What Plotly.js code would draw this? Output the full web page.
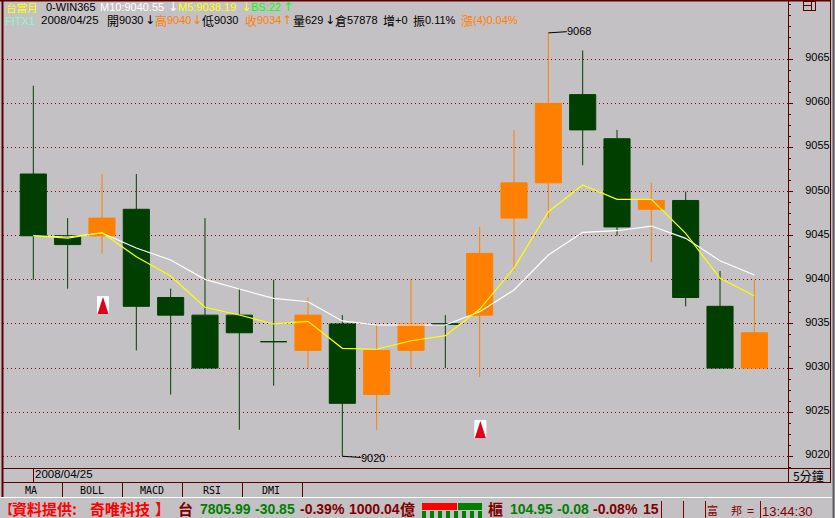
<!DOCTYPE html>
<html><head><meta charset="utf-8">
<script src="https://cdn.plot.ly/plotly-3.0.1.min.js"></script>
<style>html,body{margin:0;padding:0;background:#c4c1c4;overflow:hidden}</style>
</head><body><div id="chart" style="width:835px;height:518px"></div>
<script>
// ---- data ----
const barIndex = [0,1,2,3,4,5,6,7,8,9,10,11,12,13,14,15,16,17,18,19,20,21];
const openPrice  = [9052,9045,9045,9048,9038,9036,9036,9033,9032,9035,9027,9032,9035,9036,9047,9051,9061,9056,9048,9049,9037,9030];
const highPrice  = [9062,9047,9052,9052,9039,9047,9039,9040,9038,9036,9035,9040,9036,9046,9057,9068,9066,9057,9051,9050,9041,9040];
const lowPrice   = [9040,9039,9043,9032,9027,9030,9023,9028,9030,9020,9023,9030,9030,9029,9041,9047,9053,9045,9042,9037,9030,9030];
const closePrice = [9045,9044,9047,9037,9036,9030,9034,9032.99,9036,9026,9032,9035,9034.99,9043,9051,9060,9057,9046,9049,9038,9030,9034];
const ma10 = [9045.0,9044.86,9045.31,9043.61,9042.25,9040.06,9038.96,9037.9,9037.52,9035.34,9034.88,9034.88,9034.88,9036.39,9038.85,9042.82,9045.39,9045.57,9046.1,9044.71,9042.17,9040.55];
const ma5  = [9045.0,9044.74,9045.34,9042.62,9040.44,9036.89,9036.02,9035.0,9035.3,9032.24,9032.13,9033.1,9033.67,9036.66,9041.34,9047.73,9050.75,9049.13,9049.13,9045.28,9040.18,9038.19];
const signalX = [2.03,13.02];
const signalY = [9037.14,9023.1];
const priceTicks = [9020,9025,9030,9035,9040,9045,9050,9055,9060,9065];
const tabLabels = ['MA','BOLL','MACD','RSI','DMI'];

// ---- colours ----
const BG='#c4c1c4', FRAME='#5a0000', GREEN='#003f00', ORANGE='#ff8000', GRID='#800000';
const W=835,H=518,mL=3,mR=47,mT=2,mB=50;
const px=x=>(x-mL)/(W-mL-mR), py=y=>1-(y-mT)/(H-mT-mB);
const CJK='"Noto Sans CJK TC"', MONO='"DejaVu Sans Mono"', SANS='"Liberation Sans"';

const annotations=[], shapes=[];
function T(x,y,text,color,size,family,anchor,bold){
  annotations.push({xref:'paper',yref:'paper',x:px(x),y:py(y),text:bold?'<b>'+text+'</b>':text,showarrow:false,
    xanchor:anchor||'left',yanchor:'middle',borderpad:0,borderwidth:0,
    font:{color:color,size:size,family:family||SANS}});
}
function L(x0,y0,x1,y1,color,w){
  shapes.push({type:'line',xref:'paper',yref:'paper',x0:px(x0),y0:py(y0),x1:px(x1),y1:py(y1),line:{color:color||FRAME,width:w||1}});
}
function R(x0,y0,x1,y1,color){
  shapes.push({type:'rect',xref:'paper',yref:'paper',x0:px(x0),y0:py(y0),x1:px(x1),y1:py(y1),line:{width:0},fillcolor:color});
}
// frame
L(0,0.5,831,0.5,FRAME,2);
L(2.5,0,2.5,497,FRAME,2);
L(788.5,0,788.5,482.5);
L(830.5,0,830.5,482.5);
L(3,468.5,831,468.5);
L(3,482.5,831,482.5);
L(33.5,468,33.5,482);
[62.5,122.5,182.5,242.5,302.5].forEach(x=>L(x,482,x,497));
L(0,497.5,832,497.5,'#ffffff',1);
L(833.5,0,833.5,518,'#5c5c60',2);
// corner icon
L(803.5,1,803.5,11);L(815.5,1,815.5,11);L(803,1.5,816,1.5);L(803,10.5,816,10.5);L(803,5.5,812,5.5);L(811.5,1,811.5,11);

// header rows
T(6,7.5,'台當月','#ffff00',10.5,CJK);
T(46,7,'0-WIN365','#000',11);
T(100,7,'M10:9040.55','#fff',11);
T(168,7,'↓','#fff',12,'DejaVu Sans');
T(178,7,'M5:9038.19','#ffff00',11);
T(241,7,'↓','#ffff00',12,'DejaVu Sans');
T(251,7,'BS:22','#00ff00',11);
T(283,7,'↑','#00ff00',12,'DejaVu Sans');
T(5,21,'FITX1','#80ffc0',11);
T(41,20.5,'2008/04/25','#000',11.5);
T(107,20.5,'開','#000',12,CJK);T(119,20.5,'9030','#000',11);T(145,20.5,'↓','#000',12,'DejaVu Sans');
T(155,20.5,'高',ORANGE,12,CJK);T(167,20.5,'9040',ORANGE,11);T(192,20.5,'↓',ORANGE,12,'DejaVu Sans');
T(202,20.5,'低','#000',12,CJK);T(214,20.5,'9030','#000',11);
T(245,20.5,'收',ORANGE,12,CJK);T(257,20.5,'9034',ORANGE,11);T(282,20.5,'↑',ORANGE,12,'DejaVu Sans');
T(293,20.5,'量','#000',12,CJK);T(305,20.5,'629','#000',11);T(325,20.5,'↓','#000',12,'DejaVu Sans');
T(335,20.5,'倉','#000',12,CJK);T(347,20.5,'57878','#000',11);
T(383,20.5,'增','#000',12,CJK);T(395,20.5,'+0','#000',11);
T(413,20.5,'振','#000',12,CJK);T(425,20.5,'0.11%','#000',11);
T(461,20.5,'漲',ORANGE,12,CJK);T(473,20.5,'(4)0.04%',ORANGE,11);

// footer strips
T(35,474.5,'2008/04/25','#000',11.5);
T(793,475.5,'5分鐘','#000',12,CJK);
[31,92,152,212,271].forEach((x,i)=>T(x,490,tabLabels[i],'#000',10,MONO,'center'));

// status bar
T(0,509,'【','#ff0000',13,CJK,'left',true);
T(12,509,'資料提供:','#ff0000',15,CJK,'left',true);
T(90,509,'奇唯科技','#ff0000',15,CJK,'left',true);
T(155,509,'】','#ff0000',15,CJK,'left',true);
T(178,509,'台','#800000',15,CJK,'left',true);
T(200,509,'7805.99','#008000',14,SANS,'left',true);
T(255,509,'-30.85','#008000',14,SANS,'left',true);
T(300,509,'-0.39%','#800000',14,SANS,'left',true);
T(349,509,'1000.04','#800000',14,SANS,'left',true);
T(400,509,'億','#800000',15,CJK,'left',true);
R(422,503,457,510,'#ff0000');
R(458,503,482,510,'#008000');
for(let i=0;i<8;i++){R(422+i*8,511,426+i*8,518,'#008000');}
T(488,509,'櫃','#800000',15,CJK,'left',true);
T(510,509,'104.95','#008000',14,SANS,'left',true);
T(557,509,'-0.08','#008000',14,SANS,'left',true);
T(593,509,'-0.08%','#800000',14,SANS,'left',true);
T(643,509,'15','#800000',14,SANS,'left',true);
[661.5,683.5,705.5,760.5].forEach(x=>L(x,501,x,518,'#800000'));
T(707,510,'富','#800000',11,CJK);
T(731,510,'邦','#800000',11,CJK);
T(747,511,'=','#800000',12,SANS);
T(762,511,'13:44:30','#800000',13,SANS);

// signal markers, anchored on the data scale
signalX.forEach((sx,i)=>{
  const base={xref:'x',yref:'y',xsizemode:'pixel',ysizemode:'pixel',xanchor:sx,yanchor:signalY[i],layer:'above'};
  shapes.push(Object.assign({},base,{type:'path',path:'M -6 -9 L 6 -9 L 6 9 L -6 9 Z',fillcolor:'#ffffff',line:{width:0}}));
  shapes.push(Object.assign({},base,{type:'path',path:'M -5.5 -9 L 5.5 -9 L 0 8 Z',fillcolor:'#e0001a',line:{width:0}}));
});

// extreme labels
const iHi=highPrice.indexOf(Math.max(...highPrice)), iLo=lowPrice.indexOf(Math.min(...lowPrice));
annotations.push({x:barIndex[iHi],y:highPrice[iHi],xref:'x',yref:'y',text:String(highPrice[iHi]),showarrow:true,arrowhead:0,arrowwidth:1,arrowcolor:'#000',
  axref:'pixel',ayref:'pixel',ax:31,ay:-2,standoff:0,font:{family:SANS,size:11,color:'#000'},borderpad:0,bgcolor:'rgba(0,0,0,0)'});
annotations.push({x:barIndex[iLo],y:lowPrice[iLo],xref:'x',yref:'y',text:String(lowPrice[iLo]),showarrow:true,arrowhead:0,arrowwidth:1,arrowcolor:'#000',
  axref:'pixel',ayref:'pixel',ax:31,ay:2,standoff:0,font:{family:SANS,size:11,color:'#000'},borderpad:0,bgcolor:'rgba(0,0,0,0)'});

const data=[
 {type:'candlestick',x:barIndex,open:openPrice,high:highPrice,low:lowPrice,close:closePrice,whiskerwidth:0,
  increasing:{line:{color:ORANGE,width:1},fillcolor:ORANGE},decreasing:{line:{color:GREEN,width:1},fillcolor:GREEN},showlegend:false,hoverinfo:'skip'},
 {type:'scatter',mode:'lines',x:barIndex,y:ma10,line:{color:'#ffffff',width:1.2},showlegend:false,hoverinfo:'skip'},
 {type:'scatter',mode:'lines',x:barIndex,y:ma5,line:{color:'#ffff00',width:1.2},showlegend:false,hoverinfo:'skip'}
];
const layout={
 width:W,height:H,margin:{l:mL,r:mR,t:mT,b:mB,pad:0},paper_bgcolor:BG,plot_bgcolor:BG,showlegend:false,boxgap:0.24,boxgroupgap:0,
 font:{family:SANS,color:'#000',size:11},
 xaxis:{type:'linear',range:[-0.883,21.98],showgrid:false,zeroline:false,showticklabels:false,ticks:'',rangeslider:{visible:false},showline:false},
 yaxis:{side:'right',range:[9018.67,9071.5],tickvals:priceTicks,ticktext:priceTicks.map(String),showgrid:true,gridcolor:GRID,griddash:'1px,3px',gridwidth:1,
   zeroline:false,showline:false,ticks:'outside',ticklen:4,tickwidth:1,tickcolor:FRAME,ticklabelstandoff:10,ticklabelshift:-2,
   tickfont:{family:SANS,size:11,color:'#000'},
   minor:{dtick:1.25,tick0:9020,ticks:'outside',ticklen:2,tickwidth:1,tickcolor:FRAME,showgrid:false}},
 shapes:shapes,annotations:annotations
};
Plotly.newPlot('chart',data,layout,{staticPlot:true,displayModeBar:false});
</script></body></html>
